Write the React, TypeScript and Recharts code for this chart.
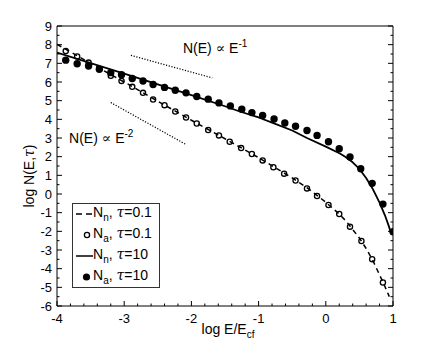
import React from "react";
import { ComposedChart, Scatter, XAxis, YAxis, Legend, ReferenceDot } from "recharts";

// log E/Ecf positions and log N values
const openX = [-3.87, -3.7, -3.53, -3.37, -3.2, -3.04, -2.88, -2.72, -2.57, -2.4, -2.24, -2.08, -1.92, -1.75, -1.59, -1.43, -1.26, -1.1, -0.94, -0.78, -0.62, -0.45, -0.28, -0.13, 0.04, 0.2, 0.36, 0.53, 0.69, 0.85];
const openY = [7.66, 7.37, 7.04, 6.7, 6.33, 6.06, 5.74, 5.42, 5.06, 4.76, 4.42, 4.1, 3.78, 3.43, 3.14, 2.8, 2.46, 2.14, 1.8, 1.43, 1.09, 0.72, 0.3, -0.11, -0.59, -1.07, -1.75, -2.52, -3.49, -4.74];

const fillX = [-3.87, -3.7, -3.53, -3.37, -3.2, -3.04, -2.88, -2.72, -2.57, -2.4, -2.24, -2.08, -1.92, -1.75, -1.59, -1.42, -1.25, -1.1, -0.94, -0.77, -0.61, -0.45, -0.28, -0.13, 0.04, 0.2, 0.36, 0.52, 0.69, 0.85, 1.0];
const fillY = [7.17, 6.98, 6.86, 6.68, 6.5, 6.39, 6.19, 6.05, 5.87, 5.71, 5.56, 5.42, 5.22, 5.08, 4.88, 4.72, 4.54, 4.36, 4.21, 4.02, 3.8, 3.63, 3.4, 3.14, 2.8, 2.43, 1.98, 1.35, 0.57, -0.54, -2.02];

const dashX = [-4.0, -3.5, -3.0, -2.5, -2.0, -1.5, -1.0, -0.5, -0.25, 0.0, 0.1, 0.2, 0.3, 0.4, 0.5, 0.6, 0.7, 0.78, 0.85, 0.9, 0.945];
const dashY = [8.02, 7.0, 6.0, 4.97, 3.95, 2.96, 1.95, 0.86, 0.26, -0.44, -0.76, -1.07, -1.45, -1.9, -2.36, -2.92, -3.56, -4.18, -4.72, -5.12, -5.5];

const solidX = [-4.0, -3.0, -2.0, -1.5, -1.28, -1.0, -0.78, -0.5, -0.28, 0.0, 0.21, 0.3, 0.4, 0.5, 0.6, 0.7, 0.8, 0.88, 0.93, 0.97];
const solidY = [7.58, 6.45, 5.3, 4.7, 4.42, 4.1, 3.8, 3.4, 3.0, 2.54, 2.17, 1.97, 1.7, 1.34, 0.86, 0.26, -0.46, -1.14, -1.64, -2.08];

const slope1X = [-2.9, -1.69];
const slope1Y = [7.43, 6.22];
const slope2X = [-3.2, -2.09];
const slope2Y = [4.9, 2.67];

const xMajor = [-4, -3, -2, -1, 0, 1];
const xMinor = [-3.8, -3.6, -3.4, -3.2, -2.8, -2.6, -2.4, -2.2, -1.8, -1.6, -1.4, -1.2, -0.8, -0.6, -0.4, -0.2, 0.2, 0.4, 0.6, 0.8];
const yMajor = [-6, -5, -4, -3, -2, -1, 0, 1, 2, 3, 4, 5, 6, 7, 8, 9];
const yMinor = [-5.5, -4.5, -3.5, -2.5, -1.5, -0.5, 0.5, 1.5, 2.5, 3.5, 4.5, 5.5, 6.5, 7.5, 8.5];

const zip = (xs: number[], ys: number[]) => xs.map((x, i) => ({ x, y: ys[i] }));
const openPts = zip(openX, openY);
const fillPts = zip(fillX, fillY);
const dashPts = zip(dashX, dashY);
const solidPts = zip(solidX, solidY);
const slope1Pts = zip(slope1X, slope1Y);
const slope2Pts = zip(slope2X, slope2Y);

const xTicks = [...xMajor, ...xMinor].sort((a, b) => a - b);
const yTicks = [...yMajor, ...yMinor].sort((a, b) => a - b);

const FONT = '"Liberation Sans", Arial, Helvetica, sans-serif';
const GREEK = '"DejaVu Serif", "Liberation Serif", serif';

const isMajor = (v: number) => Math.abs(v - Math.round(v)) < 1e-6;

function tickFor(side: "bottom" | "top" | "left" | "right") {
  return (p: any) => {
    const { x, y, payload } = p;
    const v = payload.value;
    const len = isMajor(v) ? 5 : 2.5;
    let line;
    if (side === "bottom") line = <line x1={x} x2={x} y1={y} y2={y - len} stroke="#000" />;
    else if (side === "top") line = <line x1={x} x2={x} y1={y} y2={y + len} stroke="#000" />;
    else if (side === "left") line = <line x1={x} x2={x + len} y1={y} y2={y} stroke="#000" />;
    else line = <line x1={x} x2={x - len} y1={y} y2={y} stroke="#000" />;
    let label = null;
    if (isMajor(v) && side === "bottom")
      label = <text x={x} y={y + 17} textAnchor="middle" fontSize={13} fontFamily={FONT} fill="#000">{Math.round(v)}</text>;
    if (isMajor(v) && side === "left")
      label = <text x={x - 5} y={y + 4.6} textAnchor="end" fontSize={13} fontFamily={FONT} fill="#000">{Math.round(v)}</text>;
    return (
      <g key={`${side}-${v}`}>
        {line}
        {label}
      </g>
    );
  };
}

const XLabel = (p: any) => {
  const vb = p.viewBox;
  return (
    <text x={vb.x + vb.width / 2 + 3} y={vb.y + 28} textAnchor="middle" fontSize={14} fontFamily={FONT} fill="#000">
      log E/E<tspan fontSize={10} dy={4}>cf</tspan>
    </text>
  );
};

const YLabel = (p: any) => {
  const vb = p.viewBox;
  const cx = 34;
  const cy = vb.y + vb.height / 2 + 10;
  return (
    <text x={cx} y={cy} transform={`rotate(-90 ${cx} ${cy})`} textAnchor="middle" fontSize={14} fontFamily={FONT} fill="#000">
      log N(E,<tspan fontFamily={GREEK} fontStyle="italic">τ</tspan>)
    </text>
  );
};

const powerLaw = (exp: string) => (p: any) => {
  const vb = p.viewBox;
  return (
    <text x={vb.x} y={vb.y} fontSize={14} fontFamily={FONT} fill="#000">
      N(E) <tspan fontFamily={GREEK}>∝</tspan> E<tspan fontSize={10} dy={-6}>{exp}</tspan>
    </text>
  );
};

const legendRows = [
  { kind: "dash", sub: "n", tau: "0.1" },
  { kind: "open", sub: "a", tau: "0.1" },
  { kind: "solid", sub: "n", tau: "10" },
  { kind: "fill", sub: "a", tau: "10" },
];

const LegendBox = () => (
  <div style={{ width: 88, height: 85, border: "1px solid #333", boxSizing: "border-box", background: "#fff" }}>
    <svg width={86} height={83}>
      {legendRows.map((r, i) => {
        const cy = 10 + i * 21;
        let sym;
        if (r.kind === "dash") sym = <line x1={3} x2={19} y1={cy} y2={cy} stroke="#000" strokeWidth={1.5} strokeDasharray="6 4" />;
        else if (r.kind === "solid") sym = <line x1={3} x2={20} y1={cy} y2={cy} stroke="#000" strokeWidth={1.5} />;
        else if (r.kind === "open") sym = <circle cx={14} cy={cy} r={2.6} fill="none" stroke="#000" strokeWidth={1.3} />;
        else sym = <circle cx={13.5} cy={cy} r={3.6} fill="#000" />;
        return (
          <g key={i}>
            {sym}
            <text x={20} y={cy + 2.5} fontSize={14} fontFamily={FONT} fill="#000">
              N<tspan fontSize={10} dy={4}>{r.sub}</tspan>
              <tspan dy={-4}>, </tspan>
              <tspan fontFamily={GREEK} fontStyle="italic">τ</tspan>={r.tau}
            </text>
          </g>
        );
      })}
    </svg>
  </div>
);

const OpenDot = (p: any) => <circle cx={p.cx} cy={p.cy} r={2.6} fill="none" stroke="#000" strokeWidth={1.3} />;
const FillDot = (p: any) => <circle cx={p.cx} cy={p.cy} r={3.7} fill="#000" />;
const NoDot = () => <g />;

export default function App() {
  return (
    <div style={{ position: "absolute", left: 0, top: 0, background: "#fff" }}>
      <ComposedChart width={436} height={346} margin={{ top: 0, right: 0, bottom: 0, left: 0 }}>
        <XAxis
          xAxisId="b"
          type="number"
          dataKey="x"
          domain={[-4, 1]}
          allowDataOverflow
          ticks={xTicks}
          interval={0}
          height={40}
          tickSize={0}
          tickMargin={0}
          tickLine={false}
          axisLine={{ stroke: "#000" }}
          tick={tickFor("bottom")}
          label={{ content: XLabel }}
        />
        <XAxis
          xAxisId="t"
          orientation="top"
          type="number"
          domain={[-4, 1]}
          allowDataOverflow
          ticks={xTicks}
          interval={0}
          height={26}
          tickSize={0}
          tickMargin={0}
          tickLine={false}
          axisLine={{ stroke: "#000" }}
          tick={tickFor("top")}
        />
        <YAxis
          yAxisId="l"
          type="number"
          dataKey="y"
          domain={[-6, 9]}
          allowDataOverflow
          ticks={yTicks}
          interval={0}
          width={57}
          tickSize={0}
          tickMargin={0}
          tickLine={false}
          axisLine={{ stroke: "#000" }}
          tick={tickFor("left")}
          label={{ content: YLabel }}
        />
        <YAxis
          yAxisId="r"
          orientation="right"
          type="number"
          domain={[-6, 9]}
          allowDataOverflow
          ticks={yTicks}
          interval={0}
          width={43}
          tickSize={0}
          tickMargin={0}
          tickLine={false}
          axisLine={{ stroke: "#000" }}
          tick={tickFor("right")}
        />
        <Scatter xAxisId="b" yAxisId="l" data={slope1Pts} line={{ stroke: "#000", strokeWidth: 1.2, strokeDasharray: "1.2 1.6" }} lineType="joint" shape={NoDot} isAnimationActive={false} />
        <Scatter xAxisId="b" yAxisId="l" data={slope2Pts} line={{ stroke: "#000", strokeWidth: 1.2, strokeDasharray: "1.2 1.6" }} lineType="joint" shape={NoDot} isAnimationActive={false} />
        <Scatter xAxisId="b" yAxisId="l" data={openPts} shape={OpenDot} isAnimationActive={false} />
        <Scatter xAxisId="b" yAxisId="l" data={dashPts} line={{ stroke: "#000", strokeWidth: 1.5, strokeDasharray: "5 4" }} lineType="joint" shape={NoDot} isAnimationActive={false} />
        <Scatter xAxisId="b" yAxisId="l" data={solidPts} line={{ stroke: "#000", strokeWidth: 1.8, strokeLinejoin: "round" }} lineType="joint" shape={NoDot} isAnimationActive={false} />
        <Scatter xAxisId="b" yAxisId="l" data={fillPts} shape={FillDot} isAnimationActive={false} />
        <ReferenceDot xAxisId="b" yAxisId="l" x={-2.125} y={7.54} r={0} shape={NoDot} label={{ content: powerLaw("-1") }} />
        <ReferenceDot xAxisId="b" yAxisId="l" x={-3.82} y={2.73} r={0} shape={NoDot} label={{ content: powerLaw("-2") }} />
        <Legend
          layout="horizontal"
          verticalAlign="middle"
          align="center"
          wrapperStyle={{ left: 72, top: 203, width: 88, height: 85 }}
          content={() => <LegendBox />}
        />
      </ComposedChart>
    </div>
  );
}
